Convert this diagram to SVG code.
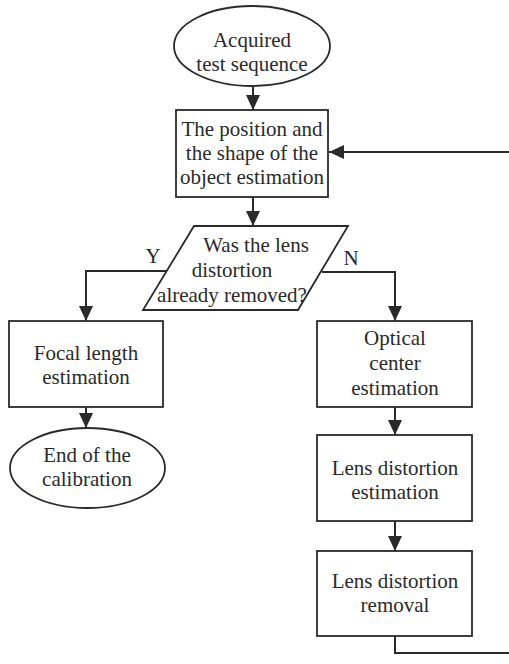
<svg xmlns="http://www.w3.org/2000/svg" width="509" height="664" viewBox="0 0 509 664">
<style>
.s{fill:#fff;stroke:#2a2a2a;stroke-width:1.8}
.t{font-family:"Liberation Serif",serif;font-size:21px;fill:#2a2a2a;text-anchor:middle}
.c{fill:none;stroke:#2a2a2a;stroke-width:2}
</style>
<defs>
<marker id="ah" markerUnits="userSpaceOnUse" markerWidth="16" markerHeight="16" viewBox="0 0 16 16" refX="15" refY="8" orient="auto">
<path d="M0,1 L15,8 L0,15 Z" fill="#2a2a2a"/>
</marker>
</defs>
<rect width="509" height="664" fill="#fff"/>
<g id="connectors">
<path class="c" d="M253,87 V110" marker-end="url(#ah)"/>
<path class="c" d="M253,197 V226" marker-end="url(#ah)"/>
<path class="c" d="M167,271 H86 V321" marker-end="url(#ah)"/>
<path class="c" d="M322,272 H395 V321" marker-end="url(#ah)"/>
<path class="c" d="M86,407 V428" marker-end="url(#ah)"/>
<path class="c" d="M395,407 V435" marker-end="url(#ah)"/>
<path class="c" d="M395,521 V551" marker-end="url(#ah)"/>
<path class="c" d="M395,636 V653 H511 V152 H329" marker-end="url(#ah)"/>
<text class="t" x="153" y="263">Y</text>
<text class="t" x="351" y="265">N</text>
</g>
<g id="start">
<ellipse class="s" cx="252" cy="46" rx="78" ry="40"/>
<text class="t" x="252" y="47">Acquired</text>
<text class="t" x="252" y="71">test sequence</text>
</g>
<g id="estimate-object">
<rect class="s" x="176" y="110" width="152" height="87"/>
<text class="t" x="252" y="136">The position and</text>
<text class="t" x="252" y="160">the shape of the</text>
<text class="t" x="252" y="184">object estimation</text>
</g>
<g id="decision">
<polygon class="s" points="194,226 348,226 298,310 143,310"/>
<text class="t" x="256" y="252">Was the lens</text>
<text class="t" x="232" y="277">distortion</text>
<text class="t" x="232" y="302">already removed?</text>
</g>
<g id="focal">
<rect class="s" x="9" y="321" width="154" height="86"/>
<text class="t" x="86" y="360">Focal length</text>
<text class="t" x="86" y="384">estimation</text>
</g>
<g id="end">
<ellipse class="s" cx="87.5" cy="468" rx="77.5" ry="40"/>
<text class="t" x="87" y="462">End of the</text>
<text class="t" x="87" y="486">calibration</text>
</g>
<g id="optical">
<rect class="s" x="317" y="321" width="155" height="86"/>
<text class="t" x="395" y="345">Optical</text>
<text class="t" x="395" y="370">center</text>
<text class="t" x="395" y="395">estimation</text>
</g>
<g id="distortion-estimation">
<rect class="s" x="317" y="435" width="155" height="86"/>
<text class="t" x="395" y="475">Lens distortion</text>
<text class="t" x="395" y="499">estimation</text>
</g>
<g id="distortion-removal">
<rect class="s" x="317" y="551" width="155" height="85"/>
<text class="t" x="395" y="588">Lens distortion</text>
<text class="t" x="395" y="612">removal</text>
</g>
</svg>
